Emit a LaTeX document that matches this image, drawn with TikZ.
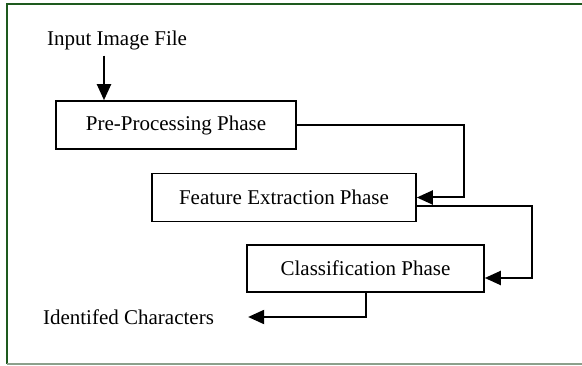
\documentclass[tikz,border=0pt]{standalone}
\usepackage{fontspec}
\setmainfont{Liberation Serif}
\usetikzlibrary{arrows.meta}

\definecolor{framegreen}{RGB}{30,90,30}
\definecolor{framegrey}{RGB}{140,160,140}

\tikzset{
  phase/.style = {draw, line width=1.6pt, minimum height=48pt, inner sep=0pt},
  flow/.style = {line width=2pt, -{Triangle[length=16pt,width=14pt]}},
  label/.style = {inner sep=0pt}
}

\begin{document}
\begin{tikzpicture}[x=1pt, y=-1pt, font=\fontsize{21}{25}\selectfont]
\useasboundingbox (0,0) rectangle (582,366);
\draw[framegreen, line width=2pt] (590,4.5) -- (6.5,4.5) -- (6.5,364);
\draw[framegrey, line width=2pt] (6.5,364) -- (590,364);

\node[label] (in) at (117,40) {Input Image File};
\node[phase, minimum width=240pt] (pre) at (176,125) {Pre-Processing Phase};
\node[phase, minimum width=264pt] (feat) at (284,197.5) {Feature Extraction Phase};
\node[phase, minimum width=237pt, minimum height=47pt] (cls) at (365.5,268.5) {Classification Phase};
\node[label] (out) at (128.5,317) {Identifed Characters};

\draw[flow] ([xshift=-13pt, yshift=-6pt]in.south) -- ([xshift=-13pt]in.south |- pre.north);
\draw[flow] (pre.east) -| ([xshift=47pt]feat.east) -- (feat.east);
\draw[flow] ([yshift=-8.5pt]feat.east) -| ([xshift=47pt, yshift=-9.5pt]cls.east) -- ([yshift=-9.5pt]cls.east);
\draw[flow] (cls.south) |- ([xshift=34pt]out.east);
\end{tikzpicture}
\end{document}
